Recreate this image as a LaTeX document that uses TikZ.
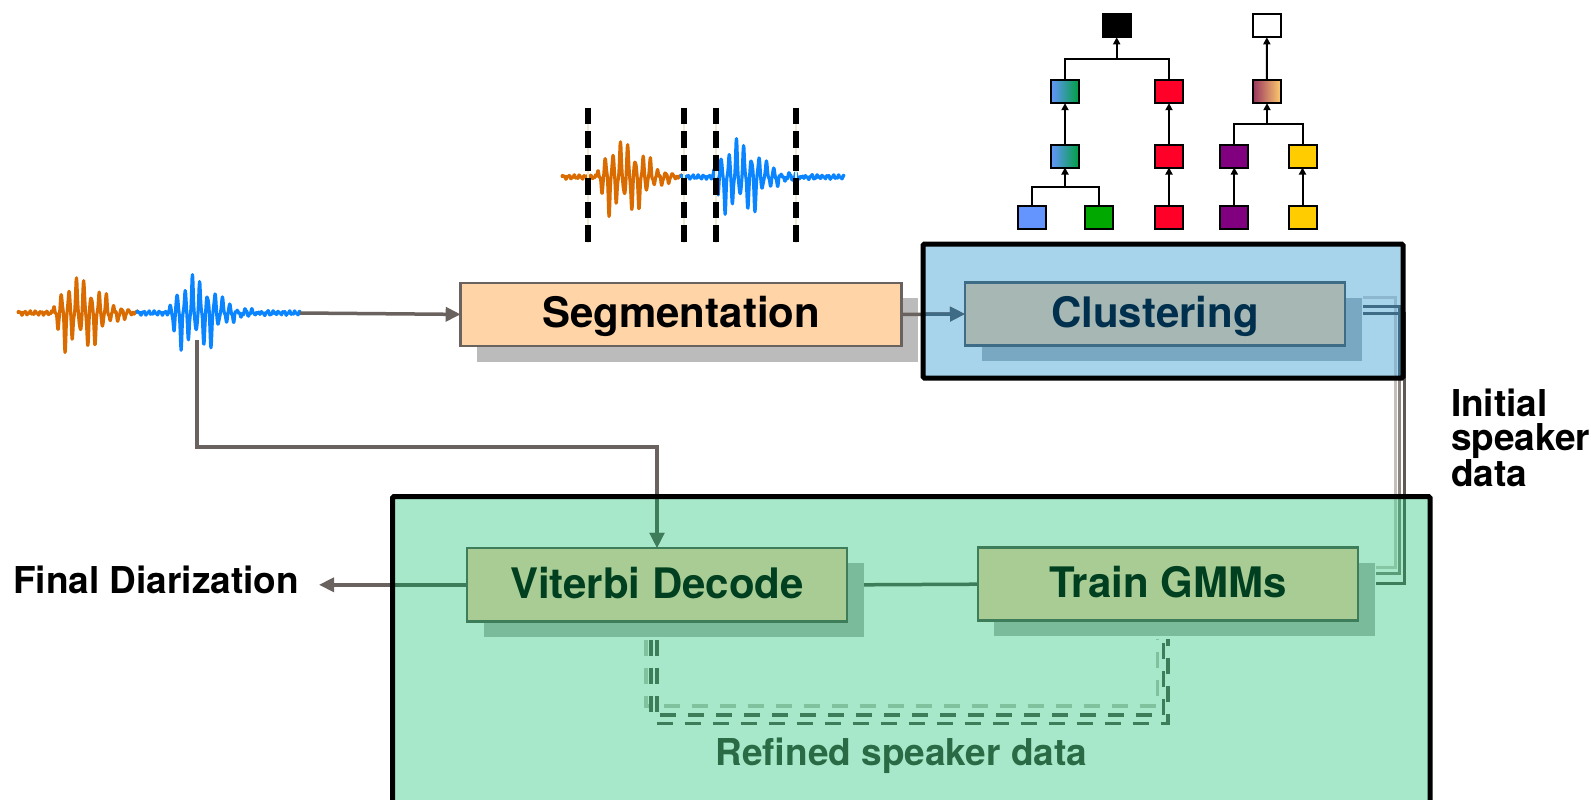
\documentclass[tikz,border=0pt]{standalone}
\usepackage{fontspec}
\setmainfont{TeX Gyre Heros}
\usetikzlibrary{arrows.meta,shadows}

\definecolor{connGray}{HTML}{6A625E}
\definecolor{segFill}{HTML}{FFD5A8}
\definecolor{segShadow}{HTML}{BBBBBB}
\definecolor{bluePanel}{HTML}{A7D4EA}
\definecolor{cluFill}{HTML}{A7B8B4}
\definecolor{cluLine}{HTML}{3E6B86}
\definecolor{cluShadow}{HTML}{79A8C2}
\definecolor{cluText}{HTML}{00304D}
\definecolor{greenPanel}{HTML}{A6E8C9}
\definecolor{gmmFill}{HTML}{A8CC94}
\definecolor{gmmLine}{HTML}{3D7D59}
\definecolor{gmmShadow}{HTML}{79BB9B}
\definecolor{gmmText}{HTML}{003F20}
\definecolor{refText}{HTML}{2A6B45}
\definecolor{loopLight}{HTML}{80C29D}
\definecolor{waveOrange}{HTML}{D96B00}
\definecolor{waveBlue}{HTML}{0A84FF}
\definecolor{cutBeige}{HTML}{F0EAD0}
\definecolor{spkBlue}{HTML}{6495FF}
\definecolor{spkGreen}{HTML}{00A800}
\definecolor{spkRed}{HTML}{FF0028}
\definecolor{spkPurple}{HTML}{800080}
\definecolor{spkYellow}{HTML}{FFCC00}
\definecolor{mixGreen}{HTML}{00A040}
\definecolor{mixMaroon}{HTML}{993560}
\definecolor{mixPeach}{HTML}{FFCC6E}
\definecolor{busLightGray}{HTML}{C6BEBA}
\definecolor{busMidGray}{HTML}{8D8581}
\definecolor{busDarkGray}{HTML}{5F5855}
\definecolor{busLightBlue}{HTML}{8DB7CF}
\definecolor{busLightGreen}{HTML}{87C6A3}
\definecolor{busMidGreen}{HTML}{5A9C77}

\begin{document}
\begin{tikzpicture}[x=1pt, y=-1pt,
  declare function={
    wenv(\s)=(\s>0)*34*min(1,\s/10)*exp(-max(0,\s-42)/16);
    wnz(\t)=1.3*sin(360*mod(\t,5.4)/5.4)+0.9*sin(360*mod(\t,2.38)/2.38+20);
    wosc(\s)=(sin(48*\s)-0.12*sin(3*mod(48*\s,360)))*(0.7+0.3*sin(61*\s+15));
    wv(\t,\o)=wenv(\t-\o)*wosc(\t-\o)+wnz(\t);
  },
  panel/.style={rectangle, draw=none, inner sep=0pt, outer sep=0pt},
  panelframe/.style={draw=black, line width=5pt, rounded corners=1.5pt},
  stage/.style={rectangle, inner sep=0pt, outer sep=0pt, line width=2.5pt,
    text height=30pt, text depth=3pt, font=\fontsize{42}{48}\selectfont\bfseries,
    minimum width=380pt},
  segstage/.style={stage, fill=segFill, draw=connGray, text=black,
    general shadow={fill=segShadow, shadow xshift=16.5pt, shadow yshift=-15.5pt}},
  clustage/.style={stage, fill=cluFill, draw=cluLine, text=cluText,
    general shadow={fill=cluShadow, shadow xshift=16.5pt, shadow yshift=-15.5pt}},
  hmmstage/.style={stage, fill=gmmFill, draw=gmmLine, text=gmmText,
    general shadow={fill=gmmShadow, shadow xshift=16.5pt, shadow yshift=-15.5pt}},
  conn/.style={draw=connGray, line width=3.5pt, -{Triangle[length=15pt,width=14pt]}},
  hmmlink/.style={draw=gmmLine, line width=3.5pt},
  busline/.style={line width=3pt},
  loopline/.style={line width=3.2pt, dash pattern=on 16pt off 12pt},
  caption/.style={font=\fontsize{37}{34}\selectfont\bfseries, inner sep=0pt, outer sep=0pt},
  segcut/.style={draw=black, line width=5.5pt, dash pattern=on 16.5pt off 7pt},
  cutguide/.style={draw=cutBeige, line width=2pt},
  waveline/.style={line width=3.2pt, line join=round, line cap=round},
  spk/.style={rectangle, draw=black, line width=2pt, minimum width=28pt,
    minimum height=23pt, inner sep=0pt, outer sep=0pt},
  mergeline/.style={draw=black, line width=2pt},
  mergearrow/.style={mergeline, -{Triangle[length=7pt,width=7pt]}},
  speech/.pic={
    \draw[waveline, draw=waveOrange] plot[domain=0:119, samples=300] (\x, {-wv(\x,34)});
    \draw[waveline, draw=waveBlue] plot[domain=119:282, samples=400] (\x, {-wv(\x,150)});
  }
]
\useasboundingbox (0,0) rectangle (1591,800);

% background panels
\node[panel, fill=bluePanel, minimum width=480pt, minimum height=134pt] (clupanel) at (1163,311) {};
\node[panel, fill=greenPanel, minimum width=1037.5pt, minimum height=320pt] (hmmpanel) at (911.25,656.5) {};

% speech signals: raw input and segmented copy
\pic at (18,313) {speech};
\pic at (562,177) {speech};
\coordinate (waveout) at (300,313);
\coordinate (wavetap) at (197,340);

% segment boundaries
\foreach \cx in {588,684,716,796}{
  \draw[cutguide] (\cx,108) -- (\cx,243);
  \draw[segcut] (\cx,107.7) -- (\cx,243);
}

% processing stages
\node[segstage, minimum width=441pt, minimum height=63.3pt] (seg) at (681.2,314.4) {Segmentation};
\node[clustage, minimum height=63.4pt] (clu) at (1155,314) {Clustering};
\node[hmmstage, minimum height=73.7pt] (vit) at (657,584.8) {Viterbi Decode};
\node[hmmstage, minimum height=73pt, minimum width=380.3pt] (gmm) at (1167.9,584.2) {Train GMMs};

% labels
\node[caption, anchor=base east, outer xsep=20pt] (final) at (319,593) {Final Diarization};
\node[caption, anchor=north west, align=left] (initial) at (1451,389) {Initial\\speaker\\data};
\node[caption, text=refText, anchor=base] (refined) at (901.5,765) {Refined speaker data};

% main flow
\draw[conn] (waveout) -- (seg.west);
\draw[conn] (seg.east) -- (clu.west);
\draw[conn] (wavetap) -- (wavetap |- 0,447) -| (vit.north);
\draw[conn] (vit.west) -- (vit.west -| final.east);
\begin{scope}
  \clip (clupanel.north west) rectangle (clupanel.south east);
  \draw[conn, draw=cluLine] (seg.east) -- (clu.west);
\end{scope}
\begin{scope}
  \clip (hmmpanel.north west) rectangle (hmmpanel.south east);
  \draw[conn, draw=gmmLine] (wavetap) -- (wavetap |- 0,447) -| (vit.north);
  \draw[conn, draw=gmmLine] (vit.west) -- (vit.west -| final.east);
\end{scope}

% decode <-> train link
\coordinate (vitR) at ([xshift=17pt]vit.east);
\draw[hmmlink] (vitR) -- (gmm.west);

% initial speaker data bus
\coordinate (cluOutL) at ([xshift=18pt,yshift=17pt]clu.east);
\coordinate (cluOutM) at ([xshift=18pt,yshift=8pt]clu.east);
\coordinate (cluOutD) at ([xshift=18pt,yshift=1pt]clu.east);
\coordinate (gmmInL) at ([xshift=18pt,yshift=17pt]gmm.east);
\coordinate (gmmInM) at ([xshift=18pt,yshift=11pt]gmm.east);
\coordinate (gmmInD) at ([xshift=18pt,yshift=1pt]gmm.east);
\coordinate (busXL) at (1395,0);
\coordinate (busXM) at (1399.5,0);
\coordinate (busXD) at (1404,0);
\draw[busline, draw=busLightGray] (cluOutL) -- (cluOutL -| busXL) -- (gmmInL -| busXL) -- (gmmInL);
\draw[busline, draw=busMidGray] (cluOutM) -- (cluOutM -| busXM) -- (gmmInM -| busXM) -- (gmmInM);
\draw[busline, draw=busDarkGray] (cluOutD) -- (cluOutD -| busXD) -- (gmmInD -| busXD) -- (gmmInD);
\begin{scope}
  \clip (clupanel.north west) rectangle (clupanel.south east);
  \draw[busline, draw=busLightBlue] (cluOutL) -- (cluOutL -| busXL) -- (gmmInL -| busXL) -- (gmmInL);
  \draw[busline, draw=cluLine] (cluOutM) -- (cluOutM -| busXM) -- (gmmInM -| busXM) -- (gmmInM);
  \draw[busline, draw=cluLine] (cluOutD) -- (cluOutD -| busXD) -- (gmmInD -| busXD) -- (gmmInD);
\end{scope}
\begin{scope}
  \clip (hmmpanel.north west) rectangle (hmmpanel.south east);
  \draw[busline, draw=busLightGreen] (cluOutL) -- (cluOutL -| busXL) -- (gmmInL -| busXL) -- (gmmInL);
  \draw[busline, draw=busMidGreen] (cluOutM) -- (cluOutM -| busXM) -- (gmmInM -| busXM) -- (gmmInM);
  \draw[busline, draw=gmmLine] (cluOutD) -- (cluOutD -| busXD) -- (gmmInD -| busXD) -- (gmmInD);
\end{scope}

% refinement loop
\coordinate (vitLoopL) at ([xshift=-11pt,yshift=-18pt]vit.south);
\coordinate (vitLoopM) at ([xshift=-6pt,yshift=-18pt]vit.south);
\coordinate (vitLoopD) at ([yshift=-18pt]vit.south);
\coordinate (gmmLoopL) at ([xshift=-10.5pt,yshift=-18pt]gmm.south);
\coordinate (gmmLoopM) at ([xshift=-4.3pt,yshift=-18pt]gmm.south);
\coordinate (gmmLoopD) at ([yshift=-18pt]gmm.south);
\draw[loopline, draw=loopLight] (vitLoopL) -- (vitLoopL |- 0,706) -| (gmmLoopL);
\draw[loopline, draw=gmmLine] (vitLoopM) -- (vitLoopM |- 0,715) -| (gmmLoopM);
\draw[loopline, draw=gmmLine] (vitLoopD) -- (vitLoopD |- 0,723.6) -| (gmmLoopD);

% panel frames
\draw[panelframe] (clupanel.north west) rectangle (clupanel.south east);
\draw[panelframe] (hmmpanel.north west) rectangle (hmmpanel.south east);

% agglomerative clustering tree
\node[spk, fill=black] (t1) at (1116.7,25.8) {};
\node[spk, fill=white] (t2) at (1266.8,25.8) {};
\node[spk, left color=spkBlue, right color=mixGreen] (m1) at (1065,91.7) {};
\node[spk, fill=spkRed] (m2) at (1169,91.7) {};
\node[spk, left color=mixMaroon, right color=mixPeach] (m3) at (1267,91.7) {};
\node[spk, left color=spkBlue, right color=mixGreen] (n1) at (1065,156) {};
\node[spk, fill=spkRed] (n2) at (1169,156) {};
\node[spk, fill=spkPurple] (n3) at (1234.3,156) {};
\node[spk, fill=spkYellow] (n4) at (1302.5,156) {};
\node[spk, fill=spkBlue] (l1) at (1031.7,217.7) {};
\node[spk, fill=spkGreen] (l2) at (1099,217.7) {};
\node[spk, fill=spkRed] (l3) at (1169,217.7) {};
\node[spk, fill=spkPurple] (l4) at (1234.3,217.7) {};
\node[spk, fill=spkYellow] (l5) at (1302.5,217.7) {};
\coordinate (j1) at (1065,187.3);
\coordinate (j2) at (1116.7,59.3);
\coordinate (j3) at (1267,124);
\draw[mergeline] (l1.north) |- (j1) -| (l2.north);
\draw[mergearrow] (j1) -- (n1.south);
\draw[mergearrow] (n1) -- (m1);
\draw[mergeline] (m1.north) |- (j2) -| (m2.north);
\draw[mergearrow] (j2) -- (t1.south);
\draw[mergearrow] (l3) -- (n2);
\draw[mergearrow] (n2) -- (m2);
\draw[mergearrow] (l4) -- (n3);
\draw[mergearrow] (l5) -- (n4);
\draw[mergeline] (n3.north) |- (j3) -| (n4.north);
\draw[mergearrow] (j3) -- (m3.south);
\draw[mergearrow] (m3) -- (t2);
\end{tikzpicture}
\end{document}
